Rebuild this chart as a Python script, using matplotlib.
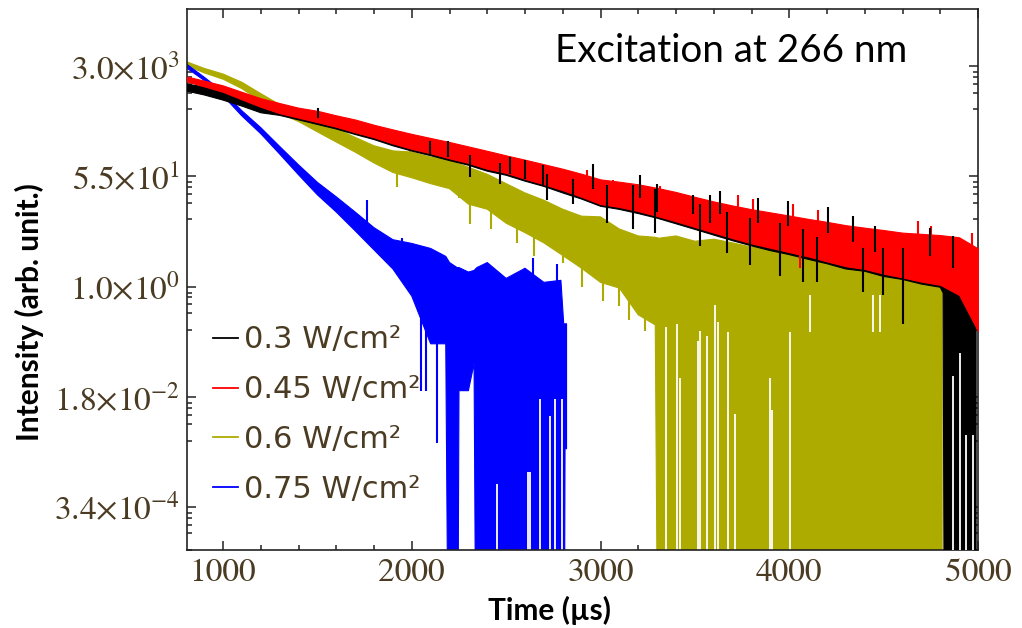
import numpy as np
import matplotlib
matplotlib.use("Agg")
import matplotlib.pyplot as plt
from matplotlib.lines import Line2D

plt.rcParams['mathtext.fontset'] = 'stix'

# value used for points where the trace drops to zero (below the log axis)
FLOOR = 1e-9
GRID = list(range(900, 4801, 100))

# ---- 0.3 W/cm2 (black) : band of the noisy trace ----
black_t = [810] + GRID + [4815, 4825, 4900, 4960, 4990]
black_hi = [1550, 1410, 1260, 1050, 870, 740, 630, 550, 470, 400,
            330, 280, 240, 205, 178, 151, 129, 110, 93, 79,
            68, 56, 46, 42, 38, 34, 29, 25, 21, 18,
            15.5, 13.8, 12.3, 11, 9.8, 8.7, 7.9, 7.2, 6.6, 6.3,
            5.9, 5.6, 5.2, 5.0, 4.0, 2.5]
black_lo = [1200, 1050, 870, 700, 550, 500, 425, 360, 305, 250,
            208, 166, 137, 116, 97, 82, 66, 57, 46, 38,
            30, 24, 18.5, 16.5, 14.2, 12, 9.8, 8.0, 6.5, 5.3,
            4.4, 3.7, 3.2, 2.7, 2.3, 1.9, 1.75, 1.45, 1.3, 1.1,
            0.98, 0.8, FLOOR, FLOOR, FLOOR, FLOOR]
# individual noise spikes of the black trace (time, top, bottom)
black_spk_t = [1503, 2097, 2192, 2309, 2468, 2521, 2600, 2696, 2717, 2855,
               2961, 3035, 3173, 3210, 3289, 3300, 3491, 3528, 3580, 3634,
               3671, 3793, 3835, 3952, 3994, 4074, 4148, 4206, 4339, 4392,
               4455, 4498, 4604, 4747, 4869]
black_spk_hi = [650, 200, 200, 120, 90, 110, 98, 83, 60, 50,
                85, 40, 40, 58, 35, 42, 28, 20, 28, 32,
                15, 12, 25, 10, 22, 8, 6, 18, 13, 4,
                9, 4, 4, 8.5, 6.3]
black_spk_lo = [450, 120, 110, 54, 42, 60, 50, 40, 23, 20,
                35, 10, 8, 25, 7, 15, 14, 4.4, 10, 14,
                3.4, 2.2, 10, 1.5, 9, 1.2, 1.2, 7, 5, 0.83,
                3.5, 0.74, 0.26, 3, 2]
black_gap_t = [4870, 4905, 4935, 4975]
black_gap_hi = [0.039, 0.09, 0.0046, 0.0046]

# ---- 0.45 W/cm2 (red) ----
red_t = [810] + GRID + [4900, 5000]
red_hi = [2040, 1760, 1480, 1170, 930, 780, 660, 590, 500, 430,
          355, 300, 255, 220, 190, 162, 138, 117, 100, 85,
          72, 60, 49, 45, 41, 36, 31, 26, 22, 19,
          16.6, 14.8, 13.2, 11.7, 10.5, 9.3, 8.5, 7.8, 7.1, 6.8,
          6.5, 6.0, 4.0]
red_lo = [1700, 1430, 1170, 890, 680, 540, 460, 390, 330, 270,
          225, 180, 148, 126, 105, 89, 72, 62, 50, 41,
          33, 26, 20, 18, 15.5, 13, 10.7, 8.7, 7.1, 5.8,
          4.8, 4.1, 3.5, 3.0, 2.5, 2.1, 1.9, 1.6, 1.4, 1.2,
          1.07, 0.74, 0.2]
red_spk_t = [1975, 2378, 2929, 3067, 3316, 3422, 3729, 3809, 4021, 4058,
             4150, 4604, 4683, 4750, 4970]
red_spk_hi = [245, 141, 69, 48, 38, 28, 28, 24, 20, 8,
              16, 4, 10.7, 9, 7]
red_spk_lo = [160, 90, 35, 25, 18, 12, 12, 9, 6, 1.95,
              4, 0.29, 3, 2, 1]

# ---- 0.6 W/cm2 (olive) ----
yel_t = [810] + list(range(900, 3201, 100)) + [3290, 3310] + list(range(3400, 4801, 100)) + [4810]
yel_hi = [3470, 2750, 2240, 1660, 1100, 740, 575, 420, 310, 225,
          166, 138, 132, 110, 98, 76, 59, 42, 30, 23,
          16.6, 12.9, 12.6, 8.1, 6.3, 6.0, 5.8,
          6.3, 5.2, 5.6, 4.9, 4.2, 4.5, 3.3, 3.2, 3.0, 2.95, 2.8, 2.75, 2.6, 2.5, 2.4,
          2.4]
yel_lo = [3020, 2340, 1860, 1320, 830, 540, 400, 275, 190, 132,
          89, 63, 52, 42, 35, 20, 16.6, 10, 7.1, 4.9,
          3.1, 1.95, 1.17, 0.95, 0.36, 0.25, FLOOR,
          FLOOR, FLOOR, FLOOR, FLOOR, FLOOR, FLOOR, FLOOR, FLOOR, FLOOR, FLOOR, FLOOR, FLOOR, FLOOR, FLOOR, FLOOR,
          FLOOR]
yel_spk_t = [1922, 1990, 2250, 2309, 2420, 2558, 2650, 2802, 2900, 3014, 3100, 3150, 3236]
yel_spk_hi = [90, 155, 60, 40, 30, 20, 12, 8, 5, 3, 2, 1.5, 2]
yel_spk_lo = [37, 90, 25, 9.8, 8, 4.9, 3, 2.4, 1, 0.59, 0.5, 0.3, 0.2]
yel_gap_t = [3348, 3406, 3422, 3517, 3528, 3565, 3607, 3623, 3676, 3713, 3899, 3910, 4005, 4111, 4445, 4480]
yel_gap_hi = [0.23, 0.26, 0.036, 0.14, 0.2, 0.17, 0.52, 0.28, 0.19, 0.0098, 0.036, 0.0116, 0.19, 0.74, 0.74, 0.74]
yel_gap_lo = [FLOOR] * 13 + [0.19, 0.19, 0.19]

# ---- 0.75 W/cm2 (blue) ----
blue_t = [810, 900, 1000, 1100, 1200, 1300, 1400, 1500, 1600, 1700,
          1800, 1900, 2000, 2100, 2180, 2200, 2240, 2250, 2300, 2330,
          2345, 2400, 2500, 2600, 2700, 2790, 2805, 2812, 2820]
blue_hi = [3160, 2000, 1170, 590, 320, 162, 83, 44, 26, 15,
           8.5, 5.5, 4.8, 4.0, 3.0, 2.4, 2.0, 2.0, 1.7, 1.8,
           2.0, 2.4, 1.35, 1.95, 1.17, 1.26, 0.26, 0.26, 0.26]
blue_lo = [2750, 1780, 1020, 490, 257, 123, 58, 28, 15, 7.6,
           3.8, 1.9, 0.71, 0.126, 0.126, FLOOR, FLOOR, 0.023, 0.023, 0.062,
           FLOOR, FLOOR, FLOOR, FLOOR, FLOOR, FLOOR, FLOOR, 0.0028, 0.0028]
blue_spk_t = [1763, 1950, 2050, 2075, 2134, 2643, 2770]
blue_spk_hi = [23, 5.8, 0.5, 0.5, 0.6, 2.8, 2.3]
blue_spk_lo = [10, 2, 0.023, 0.023, 0.0035, 1.5, 1.0]
blue_gap_t = [2452, 2616, 2627, 2680, 2733, 2760, 2796]
blue_gap_hi = [0.00078, 0.0012, 0.0012, 0.017, 0.0093, 0.017, 0.017]

labels = ['0.3 W/cm²', '0.45 W/cm²', '0.6 W/cm²', '0.75 W/cm²']
colors = ['#000000', '#ff0000', '#aeab00', '#0000ff']

ytick_vals = [3.0e3, 5.5e1, 1.0e0, 1.8e-2, 3.4e-4]
ytick_labels = ['3.0×10$^{3}$', '5.5×10$^{1}$', '1.0×10$^{0}$',
                '1.8×10$^{-2}$', '3.4×10$^{-4}$']
xtick_vals = [1000, 2000, 3000, 4000, 5000]

TXT = '#4a3b22'

fig = plt.figure(figsize=(10.22, 6.28), dpi=100)
ax = fig.add_axes([187 / 1022, 1 - 550 / 628, (978 - 187) / 1022, (550 - 9) / 628])
ax.set_yscale('log', nonpositive='clip')


def draw_trace(t, lo, hi, col, z):
    ax.fill_between(t, lo, hi, color=col, lw=0.8, edgecolor=col, zorder=z)


def draw_spikes(t, hi, lo, col, z, lw=1.5):
    ax.vlines(t, lo, hi, colors=col, lw=lw, zorder=z)


draw_trace(yel_t, yel_lo, yel_hi, colors[2], 2)
draw_spikes(yel_spk_t, yel_spk_hi, yel_spk_lo, colors[2], 2)
draw_spikes(yel_gap_t, yel_gap_hi, yel_gap_lo, 'white', 2.2, 1.3)

draw_trace(blue_t, blue_lo, blue_hi, colors[3], 2)
draw_spikes(blue_spk_t, blue_spk_hi, blue_spk_lo, colors[3], 2)
draw_spikes(blue_gap_t, blue_gap_hi, [FLOOR] * len(blue_gap_t), 'white', 2.2, 1.3)

draw_trace(black_t, black_lo, black_hi, colors[0], 3)
draw_spikes(black_gap_t, black_gap_hi, [FLOOR] * len(black_gap_t), 'white', 3.2, 1.3)

draw_trace(red_t, red_lo, red_hi, colors[1], 4)
draw_spikes(red_spk_t, red_spk_hi, red_spk_lo, colors[1], 4)
# black spikes drawn over the red band, as in the interleaved original
draw_spikes(black_spk_t, black_spk_hi, black_spk_lo, colors[0], 4.5)

ax.set_xlim(809, 5000)
ax.set_ylim(1.0e-4, 2.37e4)

# ticks
ax.set_xticks(xtick_vals)
ax.set_xticklabels([str(v) for v in xtick_vals], fontfamily='STIXGeneral', fontsize=24, color=TXT)
ax.set_xticks([v for v in range(1000, 5000, 200) if v % 1000], minor=True)
ax.set_yticks(ytick_vals)
ax.set_yticklabels(ytick_labels, fontfamily='STIXGeneral', fontsize=24, color=TXT)
minor_f = [0.808, 0.676, 0.526, 0.382, 0.209]
ax.set_yticks([m * f for m in ytick_vals for f in minor_f], minor=True)
ax.yaxis.set_minor_formatter(matplotlib.ticker.NullFormatter())
ax.tick_params(which='both', direction='in', top=True, right=True, color='#222222', width=1.1)
ax.tick_params(which='major', length=6.5)
ax.tick_params(which='minor', length=3.5)
ax.tick_params(axis='x', which='major', pad=6)
ax.tick_params(axis='y', which='major', pad=5)
for s in ax.spines.values():
    s.set_linewidth(1.2)
    s.set_color('#222222')

# legend
handles = [Line2D([], [], color=c, lw=1.3) for c in colors]
leg = ax.legend(handles, labels, loc='upper left', bbox_to_anchor=(0.033, 0.415),
                frameon=False, prop={'family': 'DejaVu Sans', 'size': 22},
                handlelength=0.8, handletextpad=0.2, labelspacing=0.68,
                borderaxespad=0, borderpad=0)
for txt in leg.get_texts():
    txt.set_color(TXT)

ax.text(0.465, 0.902, 'Excitation at 266 nm', transform=ax.transAxes,
        fontfamily='Lato', fontsize=27.8, ha='left', va='baseline', color='black')

fig.text(29 / 1022, 1 - 312 / 628, 'Intensity (arb. unit.)', rotation=90,
         fontfamily='Lato', fontweight='bold', fontsize=21.5, ha='center', va='center')
fig.text(549 / 1022, 1 - 610 / 628, 'Time (µs)', fontfamily='Lato',
         fontweight='bold', fontsize=21.5, ha='center', va='center')

fig.savefig('out.png', dpi=100)
